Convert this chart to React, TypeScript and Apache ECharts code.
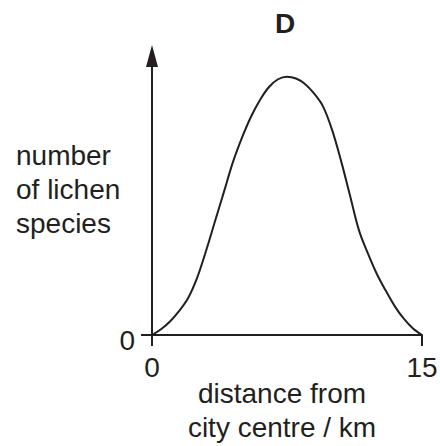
import React, { useEffect, useRef } from "react";
import * as echarts from "echarts";

const distanceKm = [0, 0.5, 1, 1.5, 2, 2.5, 3, 3.5, 4, 4.5, 5, 5.5, 6, 6.5, 7, 7.5, 8, 8.5, 9, 9.5, 10, 10.5, 11, 11.5, 12, 12.5, 13, 13.5, 14, 14.5, 15];
const lichenSpecies = [0, 0.22, 0.52, 0.92, 1.42, 2.2, 3.25, 4.4, 5.55, 6.7, 7.64, 8.45, 9.1, 9.6, 9.9, 10, 9.93, 9.72, 9.35, 8.85, 7.95, 6.75, 5.4, 4.05, 3.15, 2.35, 1.7, 1.1, 0.62, 0.25, 0];
const xTickLabels = [0, 15];
const yTickLabels = [0];
const titleText = "D";
const xAxisName = "distance from\ncity centre / km";
const yAxisName = "number\nof lichen\nspecies";

const INK = "#231f20";
const FONT = "Liberation Sans";

export default function App() {
  const ref = useRef<HTMLDivElement>(null);
  useEffect(() => {
    if (!ref.current) return;
    const chart = echarts.init(ref.current, undefined, { renderer: "svg" });
    const textStyle = { fontSize: 28, fontFamily: FONT, fill: INK, lineHeight: 34 };
    chart.setOption({
      animation: false,
      backgroundColor: "#ffffff",
      grid: { left: 152, right: 18, top: 56, bottom: 111, containLabel: false, outerBoundsMode: "none" },
      xAxis: {
        type: "value",
        min: 0,
        max: 15,
        interval: 15,
        axisLine: { onZero: false, lineStyle: { color: INK, width: 2 } },
        axisTick: { show: true, length: 11, lineStyle: { color: INK, width: 2 } },
        axisLabel: { fontSize: 28, fontFamily: FONT, color: INK, margin: 18, showMinLabel: true, showMaxLabel: true },
        splitLine: { show: false },
      },
      yAxis: {
        type: "value",
        min: 0,
        max: 10.8,
        axisLine: { onZero: false, lineStyle: { color: INK, width: 2 }, symbol: ["none", "triangle"], symbolSize: [12, 22] },
        axisTick: { show: false },
        axisLabel: { fontSize: 28, fontFamily: FONT, color: INK, margin: 17, verticalAlign: "top", lineHeight: 10, customValues: yTickLabels },
        splitLine: { show: false },
      },
      series: [
        {
          type: "line",
          data: distanceKm.map((d, i) => [d, lichenSpecies[i]]),
          smooth: 0.35,
          showSymbol: false,
          lineStyle: { color: INK, width: 2 },
          z: 3,
        },
      ],
    });

    const ticks: any[] = [];
    xTickLabels.forEach((v) => {
      const p = chart.convertToPixel({ gridIndex: 0 }, [v, 0]) as number[];
      ticks.push({ type: "rect", z: 100, shape: { x: p[0] - 1, y: p[1], width: 2, height: 11 }, style: { fill: INK } });
    });
    yTickLabels.forEach((v) => {
      const p = chart.convertToPixel({ gridIndex: 0 }, [0, v]) as number[];
      ticks.push({ type: "rect", z: 100, shape: { x: p[0] - 11, y: p[1] - 1, width: 11, height: 2 }, style: { fill: INK } });
    });
    const bottomY = (chart.convertToPixel({ gridIndex: 0 }, [0, 0]) as number[])[1];

    chart.setOption({
      graphic: [
        {
          type: "text",
          x: 285,
          y: 23,
          style: { text: titleText, fontSize: 28, fontWeight: "bold", fontFamily: FONT, fill: INK, align: "center", verticalAlign: "middle" },
        },
        {
          type: "text",
          x: 16,
          y: 189,
          style: { ...textStyle, text: yAxisName, align: "left", verticalAlign: "middle" },
        },
        {
          type: "text",
          x: 282,
          y: bottomY + 75,
          style: { ...textStyle, text: xAxisName, align: "center", verticalAlign: "middle" },
        },
        ...ticks,
      ],
    });
    return () => chart.dispose();
  }, []);
  return <div ref={ref} style={{ width: 440, height: 446, position: "absolute", left: 0, top: 0 }} />;
}
